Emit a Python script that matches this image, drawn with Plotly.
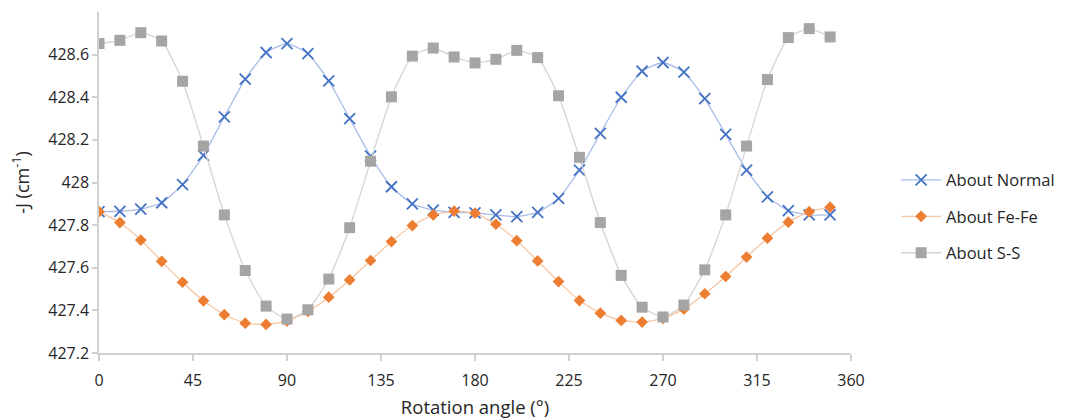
import plotly.graph_objects as go

# Rotation angles (degrees)
angle = list(range(0, 360, 10))

# -J (cm^-1) for each rotation axis
about_normal = [427.863, 427.865, 427.875, 427.905, 427.99, 428.127, 428.308, 428.485, 428.61, 428.652,
                428.605, 428.477, 428.30, 428.124, 427.98, 427.90, 427.87, 427.86, 427.857, 427.848,
                427.84, 427.86, 427.925, 428.058, 428.23, 428.40, 428.522, 428.563, 428.518, 428.394,
                428.226, 428.058, 427.933, 427.868, 427.848, 427.848]
about_fefe = [427.863, 427.812, 427.73, 427.63, 427.532, 427.445, 427.38, 427.34, 427.334, 427.35,
              427.395, 427.462, 427.543, 427.634, 427.723, 427.798, 427.848, 427.866, 427.856, 427.804,
              427.727, 427.632, 427.535, 427.446, 427.387, 427.353, 427.345, 427.362, 427.406, 427.478,
              427.559, 427.65, 427.739, 427.814, 427.863, 427.884]
about_ss = [428.652, 428.667, 428.703, 428.664, 428.475, 428.171, 427.848, 427.587, 427.42, 427.359,
            427.403, 427.547, 427.788, 428.10, 428.402, 428.593, 428.631, 428.589, 428.561, 428.578,
            428.62, 428.586, 428.407, 428.118, 427.812, 427.564, 427.415, 427.369, 427.425, 427.59,
            427.848, 428.171, 428.483, 428.68, 428.722, 428.683]

x_ticks = [0, 45, 90, 135, 180, 225, 270, 315, 360]
y_ticks = [427.2, 427.4, 427.6, 427.8, 428.0, 428.2, 428.4, 428.6]
y_tick_text = ["427.2", "427.4", "427.6", "427.8", "428", "428.2", "428.4", "428.6"]

FONT = "Open Sans"
TEXT_COLOR = "#262626"
AXIS_COLOR = "#d0d0d0"

fig = go.Figure()
fig.add_trace(go.Scatter(
    x=angle, y=about_normal, name="About Normal", mode="lines+markers",
    line=dict(color="#a9bde8", width=1.3, shape="spline", smoothing=0.5),
    marker=dict(symbol="x-thin", size=11, line=dict(color="#4472c4", width=1.8), color="#4472c4"),
    legendgroup="n",
))
fig.add_trace(go.Scatter(
    x=angle, y=about_fefe, name="About Fe-Fe", mode="lines+markers",
    line=dict(color="#f7c6a3", width=1.3, shape="spline", smoothing=0.5),
    marker=dict(symbol="diamond", size=9, color="#ed7d31"),
    legendgroup="f",
))
fig.add_trace(go.Scatter(
    x=angle, y=about_ss, name="About S-S", mode="lines+markers",
    line=dict(color="#d4d4d4", width=1.3, shape="spline", smoothing=0.5),
    marker=dict(symbol="square", size=11, color="#a5a5a5"),
    legendgroup="s",
))

fig.update_layout(
    width=1072, height=419,
    margin=dict(l=99, r=221, t=12, b=66),
    paper_bgcolor="white", plot_bgcolor="white",
    font=dict(family=FONT, size=16, color=TEXT_COLOR),
    showlegend=True,
    legend=dict(x=1.06, y=0.4, xanchor="left", yanchor="middle",
                font=dict(family=FONT, size=16.5, color=TEXT_COLOR),
                tracegroupgap=12, itemwidth=40),
    xaxis=dict(
        range=[0, 360], tickvals=x_ticks, showgrid=False, zeroline=False,
        showline=True, linecolor=AXIS_COLOR, linewidth=1.5,
        ticks="outside", ticklen=6, tickcolor=AXIS_COLOR, tickwidth=1.5,
        ticklabelstandoff=6, automargin=False,
        tickfont=dict(family=FONT, size=16, color=TEXT_COLOR),
        title=dict(text="Rotation angle (°)", font=dict(family=FONT, size=18.5, color=TEXT_COLOR), standoff=16),
    ),
    yaxis=dict(
        range=[427.2, 428.8], tickvals=y_ticks, ticktext=y_tick_text, showgrid=False, zeroline=False,
        showline=True, linecolor=AXIS_COLOR, linewidth=1.5,
        ticks="outside", ticklen=5, tickcolor=AXIS_COLOR, tickwidth=1.5,
        automargin=False,
        tickfont=dict(family=FONT, size=16, color=TEXT_COLOR),
        title=dict(text="-J (cm<sup>-1</sup>)", font=dict(family=FONT, size=18, color=TEXT_COLOR), standoff=14),
    ),
)

fig.write_html("out.html")
